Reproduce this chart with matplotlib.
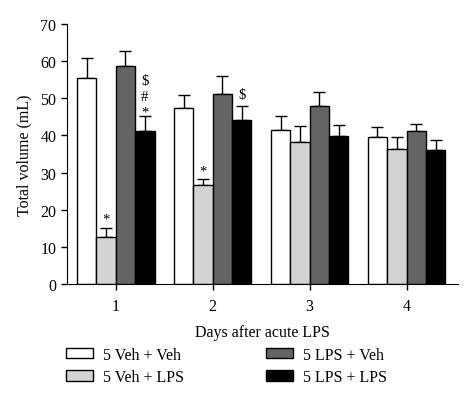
import numpy as np
import matplotlib.pyplot as plt

plt.rcParams['font.family'] = ['Liberation Serif', 'DejaVu Serif']

days = [1, 2, 3, 4]
labels = ['5 Veh + Veh', '5 Veh + LPS', '5 LPS + Veh', '5 LPS + LPS']
colors = ['white', '#d3d3d3', '#646464', 'black']

# mean and upper error (SEM) per group, days 1-4
means = [
    [55.5, 47.5, 41.4, 39.5],
    [12.7, 26.7, 38.2, 36.3],
    [58.8, 51.1, 48.0, 41.2],
    [41.2, 44.2, 39.9, 36.2],
]
errs = [
    [5.2, 3.5, 3.7, 2.8],
    [2.5, 1.6, 4.3, 3.2],
    [4.0, 4.9, 3.8, 1.9],
    [4.1, 3.6, 2.9, 2.5],
]

# significance marks: (day, group, text, y)
marks = [
    (1, 1, '*', 17.5),
    (1, 3, '*', 46.4),
    (1, 3, '#', 50.4),
    (1, 3, '$', 54.8),
    (2, 1, '*', 30.4),
    (2, 3, '$', 51.0),
]

fs = 11.5
fig = plt.figure(figsize=(4.74, 4.02), dpi=100)
ax = fig.add_axes([0.141, 0.291, 0.825, 0.647])

w = 0.2
x = np.array(days, dtype=float)
for i in range(4):
    pos = x + (i - 1.5) * w
    ax.bar(pos, means[i], width=w, color=colors[i], edgecolor='black',
           linewidth=1.0, label=labels[i], zorder=2)
    ax.errorbar(pos, means[i], yerr=[np.zeros(4), errs[i]], fmt='none',
                ecolor='black', elinewidth=1.0, capsize=4, capthick=1.0, zorder=1)

for d, g, t, y in marks:
    ax.text(d + (g - 1.5) * w, y, t, ha='center', va='center', fontsize=10.5)

ax.set_xlim(0.495, 4.53)
ax.set_ylim(0, 70)
ax.set_yticks(range(0, 71, 10))
ax.set_xticks(days)
ax.spines['top'].set_visible(False)
ax.spines['right'].set_visible(False)
ax.tick_params(labelsize=fs, direction='out', length=4, width=1)
ax.tick_params(axis='x', pad=6)
ax.set_ylabel('Total volume (mL)', fontsize=fs, labelpad=6)
ax.set_xlabel('Days after acute LPS', fontsize=fs, labelpad=7)

fig.legend(loc='lower left', bbox_to_anchor=(0.108, 0.004), ncol=2, frameon=False,
           fontsize=fs, handlelength=1.7, handleheight=0.65, columnspacing=5.1,
           labelspacing=0.4, handletextpad=0.65)

fig.savefig('out.png', dpi=100)
